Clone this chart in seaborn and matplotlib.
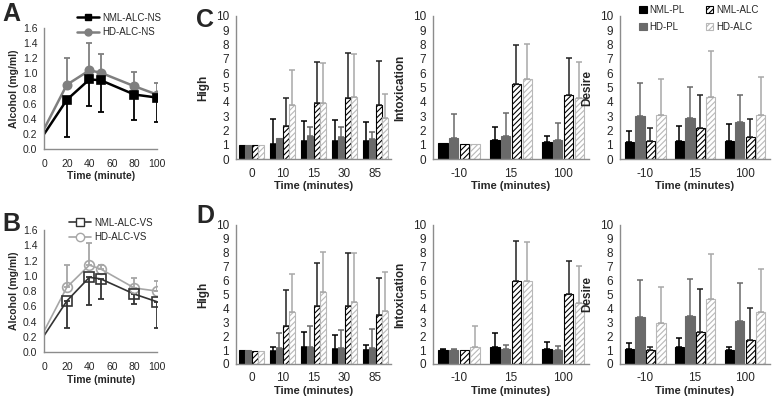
import matplotlib
matplotlib.use("Agg")
import matplotlib.pyplot as plt
import matplotlib.patches as mpatches
from matplotlib.lines import Line2D
import pandas as pd
import seaborn as sns

sns.set_style("white")
plt.rcParams['font.family'] = ['Liberation Sans', 'DejaVu Sans']
plt.rcParams['hatch.linewidth'] = 0.8

# blood alcohol curves (A: NS, B: VS)
bac_time = [0, 20, 40, 50, 80, 100]
nml_ns = [0.20, 0.65, 0.92, 0.91, 0.72, 0.68]
nml_ns_err = [0, 0.49, 0.35, 0.42, 0.34, 0.32]
hd_ns = [0.27, 0.85, 1.04, 1.01, 0.83, 0.72]
hd_ns_err = [0, 0.35, 0.36, 0.25, 0.19, 0.15]
nml_vs = [0.22, 0.67, 0.98, 0.96, 0.76, 0.66]
nml_vs_err = [0, 0.35, 0.36, 0.27, 0.13, 0.35]
hd_vs = [0.28, 0.85, 1.14, 1.09, 0.84, 0.80]
hd_vs_err = [0, 0.29, 0.29, 0.05, 0.13, 0.13]

# subjective ratings
groups = ["NML-PL", "HD-PL", "NML-ALC", "HD-ALC"]
high_times = ["0", "10", "15", "30", "85"]
short_times = ["-10", "15", "100"]

c_high = {"NML-PL": [1.0, 1.05, 1.25, 1.3, 1.25], "HD-PL": [1.0, 1.5, 1.6, 1.55, 1.4],
          "NML-ALC": [1.0, 2.3, 3.9, 4.25, 3.8], "HD-ALC": [1.0, 3.75, 3.9, 4.35, 2.85]}
c_high_err = {"NML-PL": [0, 1.75, 1.4, 1.45, 1.35], "HD-PL": [0, 0, 0.65, 0.7, 0.5],
              "NML-ALC": [0, 1.95, 2.9, 3.15, 3.05], "HD-ALC": [0, 2.5, 2.8, 3.0, 1.7]}
c_intox = {"NML-PL": [1.1, 1.35, 1.2], "HD-PL": [1.45, 1.6, 1.35],
           "NML-ALC": [1.05, 5.25, 4.45], "HD-ALC": [1.05, 5.6, 4.25]}
c_intox_err = {"NML-PL": [0, 0.9, 0.4], "HD-PL": [1.7, 1.6, 1.15],
               "NML-ALC": [0, 2.75, 2.6], "HD-ALC": [0, 2.45, 2.55]}
c_desire = {"NML-PL": [1.2, 1.25, 1.3], "HD-PL": [3.0, 2.9, 2.6],
            "NML-ALC": [1.25, 2.2, 1.55], "HD-ALC": [3.05, 4.35, 3.05]}
c_desire_err = {"NML-PL": [0.8, 1.05, 1.15], "HD-PL": [2.3, 2.15, 1.85],
                "NML-ALC": [0.95, 2.3, 1.25], "HD-ALC": [2.55, 3.2, 2.7]}

d_high = {"NML-PL": [1.0, 0.95, 1.2, 1.1, 1.0], "HD-PL": [1.0, 1.15, 1.25, 1.15, 1.15],
          "NML-ALC": [0.95, 2.75, 4.15, 4.2, 3.55], "HD-ALC": [0.95, 3.75, 5.15, 4.45, 3.8]}
d_high_err = {"NML-PL": [0, 0.25, 1.1, 0.95, 0.35], "HD-PL": [0, 1.05, 1.45, 1.3, 1.35],
              "NML-ALC": [0, 2.6, 3.1, 3.75, 2.65], "HD-ALC": [0, 2.75, 2.9, 3.55, 2.8]}
d_intox = {"NML-PL": [1.0, 1.2, 1.1], "HD-PL": [1.0, 1.05, 1.0],
           "NML-ALC": [1.0, 5.95, 5.0], "HD-ALC": [1.2, 5.95, 4.4]}
d_intox_err = {"NML-PL": [0.05, 1.0, 0.5], "HD-PL": [0.05, 0.3, 0.3],
               "NML-ALC": [0, 2.9, 2.4], "HD-ALC": [1.5, 2.8, 2.65]}
d_desire = {"NML-PL": [1.05, 1.2, 1.0], "HD-PL": [3.35, 3.45, 3.1],
            "NML-ALC": [1.0, 2.3, 1.75], "HD-ALC": [2.95, 4.7, 3.75]}
d_desire_err = {"NML-PL": [0.45, 0.7, 0.25], "HD-PL": [2.7, 2.65, 2.7],
                "NML-ALC": [0.25, 3.1, 2.3], "HD-ALC": [2.55, 3.2, 3.05]}

fills = {"NML-PL": "#000000", "HD-PL": "#6a6a6a", "NML-ALC": "#ffffff", "HD-ALC": "#ffffff"}
edges = {"NML-PL": "#000000", "HD-PL": "#6a6a6a", "NML-ALC": "#000000", "HD-ALC": "#b8b8b8"}
hatches = {"NML-PL": "", "HD-PL": "", "NML-ALC": "//////", "HD-ALC": "//////"}
errcol = {"NML-PL": "#000000", "HD-PL": "#6a6a6a", "NML-ALC": "#222222", "HD-ALC": "#a8a8a8"}

SPINE = "#8c8c8c"


def style_axes(ax, ticksize):
    sns.despine(ax=ax)
    for s in ["left", "bottom"]:
        ax.spines[s].set_color(SPINE)
        ax.spines[s].set_linewidth(1.0)
    ax.tick_params(axis="both", which="both", direction="out", color=SPINE,
                   labelsize=ticksize, width=1.0, pad=2)
    ax.tick_params(axis="y", length=3)


def bar_panel(ax, times, means, errs, ylabel):
    rows = [{"time": t, "group": g, "score": means[g][i]}
            for g in groups for i, t in enumerate(times)]
    df = pd.DataFrame(rows)
    sns.barplot(data=df, x="time", y="score", hue="group", order=times,
                hue_order=groups, palette=fills, errorbar=None, width=0.84,
                gap=0.1, saturation=1, legend=False, ax=ax)
    for cont, g in zip(ax.containers, groups):
        for bar, e in zip(cont, errs[g]):
            bar.set_facecolor(fills[g])
            bar.set_edgecolor(edges[g])
            bar.set_linewidth(0.8)
            bar.set_hatch(hatches[g])
            if e > 0:
                x = bar.get_x() + bar.get_width() / 2
                h = bar.get_height()
                ax.errorbar([x], [h], yerr=[[0], [e]], fmt="none", ecolor=errcol[g],
                            elinewidth=1.1, capsize=2.5, capthick=1.1, zorder=1)
    n = len(times)
    ax.set_xlim(-0.5, n - 0.5)
    ax.set_ylim(0, 10)
    ax.set_yticks(range(0, 11))
    ax.set_xticks(range(n))
    ax.set_xticks([i - 0.5 for i in range(n + 1)], minor=True)
    style_axes(ax, 8.5)
    ax.tick_params(axis="x", which="major", length=0, pad=6)
    ax.tick_params(axis="x", which="minor", length=4)
    ax.set_xlabel("Time (minutes)", fontsize=8, fontweight="bold", labelpad=1)
    ax.set_ylabel(ylabel, fontsize=8.5, fontweight="bold", labelpad=5)


def line_panel(ax, nml, nml_err, hd, hd_err, nml_style, hd_style):
    sns.lineplot(x=bac_time, y=hd, color=hd_style["c"], lw=hd_style["lw"], ax=ax)
    sns.lineplot(x=bac_time, y=nml, color=nml_style["c"], lw=nml_style["lw"], ax=ax)
    ax.errorbar(bac_time[1:], hd[1:], yerr=[[0] * 5, hd_err[1:]], fmt="none",
                ecolor=hd_style["c"], elinewidth=1.3, capsize=2.5, capthick=1.3)
    ax.errorbar(bac_time[1:], nml[1:], yerr=[nml_err[1:], [0] * 5], fmt="none",
                ecolor=nml_style["c"], elinewidth=1.3, capsize=2.5, capthick=1.3)
    ax.plot(bac_time[1:], hd[1:], ls="none", marker="o", ms=hd_style["ms"],
            mfc=hd_style["mfc"], mec=hd_style["c"], mew=1.2)
    ax.plot(bac_time[1:], nml[1:], ls="none", marker="s", ms=nml_style["ms"],
            mfc=nml_style["mfc"], mec=nml_style["c"], mew=1.2)
    ax.set_xlim(0, 100)
    ax.set_ylim(0, 1.6)
    ax.set_xticks(range(0, 101, 20))
    ax.set_yticks([i * 0.2 for i in range(9)])
    ax.set_yticklabels([f"{i * 0.2:.1f}" for i in range(9)])
    style_axes(ax, 7.5)
    ax.tick_params(axis="x", length=3, pad=4)
    ax.set_xlabel("Time (minute)", fontsize=7.5, fontweight="bold", labelpad=2)
    ax.set_ylabel("Alcohol (mg/ml)", fontsize=7.5, fontweight="bold", labelpad=3)


fig = plt.figure(figsize=(7.77, 3.96), dpi=100, facecolor="white")

axA = fig.add_axes([0.057, 0.624, 0.145, 0.305])
axB = fig.add_axes([0.057, 0.111, 0.145, 0.308])

nsA = {"c": "#000000", "lw": 1.8, "ms": 6, "mfc": "#000000"}
hsA = {"c": "#7f7f7f", "lw": 1.8, "ms": 6, "mfc": "#7f7f7f"}
nsB = {"c": "#333333", "lw": 1.2, "ms": 7, "mfc": "none"}
hsB = {"c": "#a6a6a6", "lw": 1.2, "ms": 7, "mfc": "none"}
line_panel(axA, nml_ns, nml_ns_err, hd_ns, hd_ns_err, nsA, hsA)
line_panel(axB, nml_vs, nml_vs_err, hd_vs, hd_vs_err, nsB, hsB)

legA = [Line2D([], [], color=nsA["c"], lw=1.8, marker="s", ms=5, mfc=nsA["mfc"], mec=nsA["c"]),
        Line2D([], [], color=hsA["c"], lw=1.8, marker="o", ms=5, mfc=hsA["mfc"], mec=hsA["c"])]
axA.legend(legA, ["NML-ALC-NS", "HD-ALC-NS"], loc="upper left",
           bbox_to_anchor=(70 / 777, 1 - 6 / 396), bbox_transform=fig.transFigure,
           frameon=False, fontsize=7, handlelength=2.3, handletextpad=0.3,
           labelspacing=0.45, borderpad=0.2)
legB = [Line2D([], [], color=nsB["c"], lw=1.2, marker="s", ms=6, mfc="white", mec=nsB["c"]),
        Line2D([], [], color=hsB["c"], lw=1.2, marker="o", ms=6, mfc="white", mec=hsB["c"])]
axB.legend(legB, ["NML-ALC-VS", "HD-ALC-VS"], loc="upper left",
           bbox_to_anchor=(62 / 777, 1 - 211 / 396), bbox_transform=fig.transFigure,
           frameon=False, fontsize=7, handlelength=2.3, handletextpad=0.3,
           labelspacing=0.45, borderpad=0.2)

top_b, top_h = 0.598, 0.362
bot_b, bot_h = 0.081, 0.351
cols = [(0.3037, 0.1995), (0.5573, 0.2008), (0.798, 0.193)]

panels = [
    (0, top_b, top_h, high_times, c_high, c_high_err, "High"),
    (1, top_b, top_h, short_times, c_intox, c_intox_err, "Intoxication"),
    (2, top_b, top_h, short_times, c_desire, c_desire_err, "Desire"),
    (0, bot_b, bot_h, high_times, d_high, d_high_err, "High"),
    (1, bot_b, bot_h, short_times, d_intox, d_intox_err, "Intoxication"),
    (2, bot_b, bot_h, short_times, d_desire, d_desire_err, "Desire"),
]
for ci, b, h, times, means, errs, lab in panels:
    ax = fig.add_axes([cols[ci][0], b, cols[ci][1], h])
    bar_panel(ax, times, means, errs, lab)

bar_handles = [mpatches.Patch(facecolor=fills[g], edgecolor=edges[g], hatch=hatches[g], lw=0.8)
               for g in groups]
fig.legend(bar_handles, groups, ncol=2, loc="upper left",
           bbox_to_anchor=(632 / 777, 1.0 + 2 / 396), frameon=False, fontsize=7,
           handlelength=0.8, handleheight=0.8, handletextpad=0.25,
           columnspacing=2.2, labelspacing=0.75, borderpad=0.2)

for letter, x, y in [("A", 2, 2), ("B", 2, 212), ("C", 196, 8), ("D", 196, 204)]:
    fig.text(x / 777, 1 - y / 396, letter, fontsize=18, fontweight="bold",
             va="top", ha="left")

fig.savefig("out.png", dpi=100, facecolor="white")
